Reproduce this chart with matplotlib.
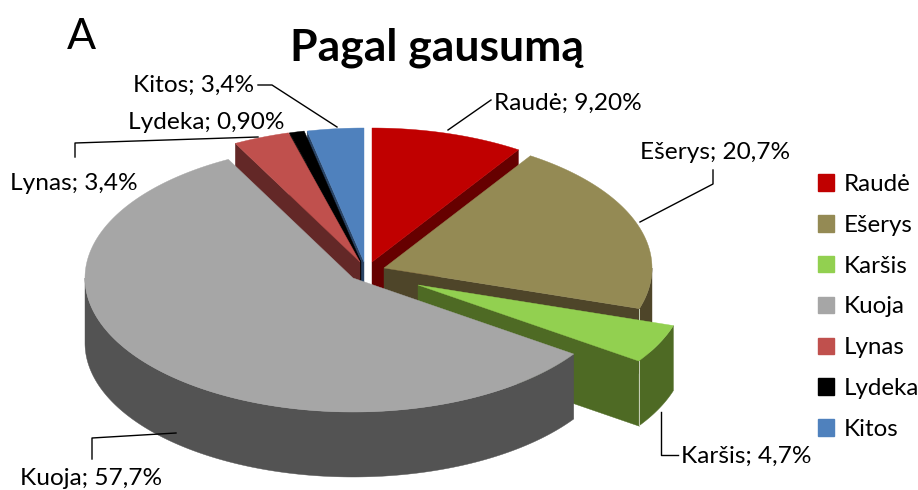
import numpy as np
import matplotlib
matplotlib.use('Agg')
import matplotlib.pyplot as plt
from matplotlib.patches import Polygon, Patch

# Data
rusys = ['Raudė', 'Ešerys', 'Karšis', 'Kuoja', 'Lynas', 'Lydeka', 'Kitos']
procentai = [9.2, 20.7, 4.7, 57.7, 3.4, 0.9, 3.4]
etiketes = ['Raudė; 9,20%', 'Ešerys; 20,7%', 'Karšis; 4,7%', 'Kuoja; 57,7%',
            'Lynas; 3,4%', 'Lydeka; 0,90%', 'Kitos; 3,4%']

# Styles
spalvos = ['#C00000', '#948A54', '#92D050', '#A6A6A6', '#C0504D', '#000000', '#4F81BD']
sienos = ['#660000', '#4E4529', '#4E6A24', '#535353', '#632827', '#000000', '#2A4465']

# Slice apex in figure pixels (each slice is pulled out differently)
centrai = [(372, 262), (384, 268), (418, 285), (353, 278), (360, 262), (361, 262), (364, 262)]
R = 268
K = 0.5      # tilt of the ellipse
GYLIS = 65   # wall height

plt.rcParams['font.family'] = ['Lato', 'DejaVu Sans']

fig = plt.figure(figsize=(9.18, 4.9), dpi=100)
ax = fig.add_axes([0, 0, 1, 1])
ax.set_xlim(0, 918)
ax.set_ylim(490, 0)
ax.axis('off')


def taskas(c, th, r=R):
    # th in degrees, clockwise from the top
    t = np.radians(th)
    return c[0] + r * np.sin(t), c[1] - r * K * np.cos(t)


def arc(c, a, b):
    n = max(int(abs(b - a)) * 2, 2)
    t = np.linspace(a, b, n)
    x, y = taskas(c, t)
    return np.column_stack([x, y])


def siena_krastas(c, th, spalva, z):
    # flat cut face along the radius at angle th
    x, y = taskas(c, th)
    pts = [c, (x, y), (x, y + GYLIS), (c[0], c[1] + GYLIS)]
    ax.add_patch(Polygon(pts, closed=True, fc=spalva, ec=spalva, lw=0.3, zorder=z))


# Angles of slice boundaries
suma = np.sum(procentai)
ribos = np.concatenate([[0], np.cumsum(procentai)]) / suma * 360

# Back slices first, Kuoja last because it sits in front of everything
tvarka = [0, 6, 5, 4, 1, 2, 3]
for z, i in enumerate(tvarka):
    a, b = ribos[i], ribos[i + 1]
    c = centrai[i]
    zz = z * 5 + 1

    # cut faces turned to the viewer
    if np.sin(np.radians(a)) < 0:
        siena_krastas(c, a, sienos[i], zz)
    if np.sin(np.radians(b)) > 0:
        siena_krastas(c, b, sienos[i], zz)

    # outer wall, only the front half of the rim
    a2, b2 = max(a, 90), min(b, 270)
    if b2 > a2:
        virsus = arc(c, a2, b2)
        apacia = virsus + [0, GYLIS]
        ax.add_patch(Polygon(np.vstack([virsus, apacia[::-1]]), closed=True,
                             fc=sienos[i], ec=sienos[i], lw=0.3, zorder=zz + 1))
        # light seam where the rim meets the cut face
        if 90 < b < 180:
            x, y = taskas(c, b)
            ax.plot([x, x], [y, y + GYLIS], color='#C8D0B8', lw=0.7, zorder=zz + 2)

    # top face
    pts = np.vstack([[c], arc(c, a, b)])
    ax.add_patch(Polygon(pts, closed=True, fc=spalvos[i], ec=spalvos[i], lw=0.3, zorder=zz + 3))

# Leader lines
linijos = [
    [(448, 130), (491, 100)],
    [(640, 222), (713, 184), (713, 170)],
    [(661, 412), (661, 455), (678, 455)],
    [(176, 433), (92, 438), (92, 459)],
    [(258, 137), (75, 143), (75, 157)],
    [(337, 127), (272, 85), (258, 85)],
]
for ln in linijos:
    xs, ys = zip(*ln)
    ax.plot(xs, ys, color='black', lw=1.0, zorder=100)

# Data labels
fs = 17.6
pozicijos = [(494, 103), (640, 152), (681, 456), (20, 478), (10, 183), (128, 122), (133, 85)]
for txt, (x, y) in zip(etiketes, pozicijos):
    ax.text(x, y, txt, fontsize=fs, ha='left', va='center', color='black', zorder=101)

# Title and panel letter
ax.text(437, 48, 'Pagal gausumą', fontsize=32, fontweight='bold', ha='center', va='center')
ax.text(81, 37, 'A', fontsize=31, ha='center', va='center')

# Legend
rankenos = [Patch(fc=s, ec=s) for s in spalvos]
ax.legend(rankenos, rusys, loc='upper left', bbox_to_anchor=(818 / 918, 1 - 174 / 490),
          frameon=False, fontsize=17.4, handlelength=0.67, handleheight=0.67,
          handletextpad=0.38, labelspacing=0.82, borderpad=0, borderaxespad=0)

plt.savefig('out.png', dpi=100)
